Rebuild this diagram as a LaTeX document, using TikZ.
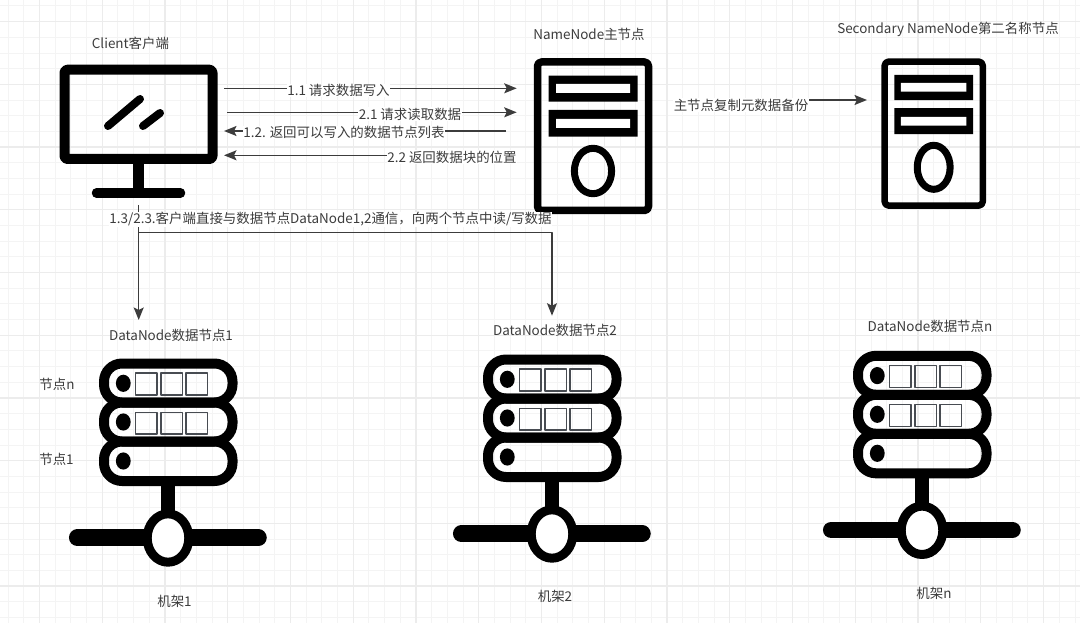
\documentclass[tikz,border=0pt]{standalone}
\usepackage{fontspec}
\setmainfont{Noto Sans CJK SC}
\usetikzlibrary{arrows.meta}
\definecolor{gridminor}{HTML}{F4F4F4}
\definecolor{gridmajor}{HTML}{ECECEC}
\definecolor{inkgrey}{HTML}{3C3C3C}
\definecolor{slotgrey}{HTML}{484C52}
\tikzset{
	lbl/.style={text=inkgrey, inner sep=0.5pt, font=\fontsize{13.45}{15}\selectfont},
	flowlbl/.style={lbl, fill=white},
	flow/.style={draw=inkgrey, line width=1.5pt},
	flowtip/.style={flow, -{Stealth[length=12.5pt, width=10pt, inset=2.5pt]}},
	servericon/.pic={
		\draw[line width=#1, rounded corners=4pt] (-55.5,4) rectangle (55.5,152.5);
		\fill (-44.5,17.7) rectangle (44.5,43.7) (-44.5,52) rectangle (44.5,78.7);
		\fill[white] (-37,26) rectangle (37,35) (-37,61) rectangle (37,70);
		\draw[line width=7pt] (0,113) ellipse (18.6 and 22.7);
	},
	rackicon/.pic={
		\draw[line width=14.6pt] (0,123)--(0,160);
		\draw[line width=16.7pt, line cap=round] (-90.7,179.7)--(90.4,179.7);
		\draw[line width=9pt, fill=white] (0,180) ellipse (20.8 and 24.2);
		\draw[line width=10pt, rounded corners=18pt] (-64,5.5) rectangle (64.5,44.5);
		\draw[line width=10pt, rounded corners=18pt] (-64,44.5) rectangle (64.5,83.5);
		\draw[line width=10pt, rounded corners=18pt] (-64,83.5) rectangle (64.5,123);
		\fill (-44.7,25.3) ellipse (7.4 and 8.6) (-44.7,64) ellipse (7.4 and 8.6) (-44.7,103) ellipse (7.4 and 8.6);
		\draw[line width=1.6pt, draw=slotgrey]
			(-32.7,15) rectangle (-11,37) (-7.3,15) rectangle (14.3,37) (17.7,15) rectangle (39.3,37)
			(-32.7,54.3) rectangle (-11,76) (-7.3,54.3) rectangle (14.3,76) (17.7,54.3) rectangle (39.3,76);
	}
}
\begin{document}
\begin{tikzpicture}[x=1pt, y=-1pt, line join=round]
	\useasboundingbox (0,0) rectangle (1080,623);
	% grid
	\foreach \k in {0,...,69} \draw[gridminor, line width=1pt] ({8.1+15.69*\k},0)--({8.1+15.69*\k},623);
	\foreach \k in {0,...,39} \draw[gridminor, line width=1pt] (0,{6+15.68*\k})--(1080,{6+15.68*\k});
	\foreach \k in {0,...,16} \draw[gridmajor, line width=1.3pt] ({39.5+62.75*\k},0)--({39.5+62.75*\k},623);
	\foreach \k in {0,...,9} \draw[gridmajor, line width=1.3pt] (0,{21.7+62.7*\k})--(1080,{21.7+62.7*\k});

	% client
	\draw[line width=10pt, rounded corners=3pt] (64.5,69.7) rectangle (212.5,159);
	\draw[line width=10.5pt] (138.7,164)--(138.7,190);
	\draw[line width=9.5pt, line cap=round] (96.5,193)--(180.5,193);
	\draw[line width=8pt, line cap=round] (108,126)--(140,99) (143,126)--(160,113);

	% servers and racks
	\pic (namenode) at (593,58) {servericon=7.5pt};
	\pic[xscale=0.884, yscale=0.97] (secondary) at (933.7,57.7) {servericon=6.5pt};
	\pic (rackone) at (168,358) {rackicon};
	\pic (racktwo) at (552,354) {rackicon};
	\pic (rackn) at (922,350.3) {rackicon};

	% ends of the connectors
	\coordinate (C11) at (224,88.3);
	\coordinate (N11) at (516.7,88.3);
	\coordinate (C21) at (227,112.3);
	\coordinate (N21) at (516.7,112.3);
	\coordinate (N12) at (506,131);
	\coordinate (C12) at (224,131);
	\coordinate (N22) at (500,155.3);
	\coordinate (C22) at (224,155.3);
	\coordinate (N3) at (808,100);
	\coordinate (S3) at (867,100);
	\coordinate (C3) at (138.7,205);
	\coordinate (J3) at (138.7,232.7);
	\coordinate (D1) at (138.7,320);
	\coordinate (D2) at (552,315.7);

	\draw[flowtip] (C11)--(N11);
	\draw[flowtip] (C21)--(N21);
	\draw[flowtip] (N12)--(C12);
	\draw[flowtip] (N22)--(C22);
	\draw[flowtip] (N3)--(S3);
	\draw[flowtip] (C3)--(D1);
	\draw[flowtip] (J3)-|(D2);

	% connector labels
	\node[flowlbl] (l11) at (338.5,90.7) {1.1 请求数据写入};
	\node[flowlbl] (l21) at (410,114) {2.1 请求读取数据};
	\node[flowlbl] (l12) at (344,132.7) {1.2. 返回可以写入的数据节点列表};
	\node[flowlbl] (l22) at (452,157) {2.2 返回数据块的位置};
	\node[flowlbl] (l3) at (741,105) {主节点复制元数据备份};
	\node[flowlbl] (l13) at (330.5,219.3) {1.3/2.3.客户端直接与数据节点DataNode1,2通信，向两个节点中读/写数据};

	% titles
	\node[lbl] (tclient) at (130.5,43) {Client客户端};
	\node[lbl] (tname) at (589,34) {NameNode主节点};
	\node[lbl] (tsecond) at (948,29) {Secondary NameNode第二名称节点};
	\node[lbl] (tdn1) at (171,335) {DataNode数据节点1};
	\node[lbl] (tdn2) at (555,330.7) {DataNode数据节点2};
	\node[lbl] (tdnn) at (930,326.7) {DataNode数据节点n};
	\node[lbl] (tn) at (57,384) {节点n};
	\node[lbl] (tone) at (56.5,459) {节点1};
	\node[lbl] (track1) at (174.5,601.7) {机架1};
	\node[lbl] (track2) at (555,596.7) {机架2};
	\node[lbl] (trackn) at (934,593) {机架n};
\end{tikzpicture}
\end{document}
